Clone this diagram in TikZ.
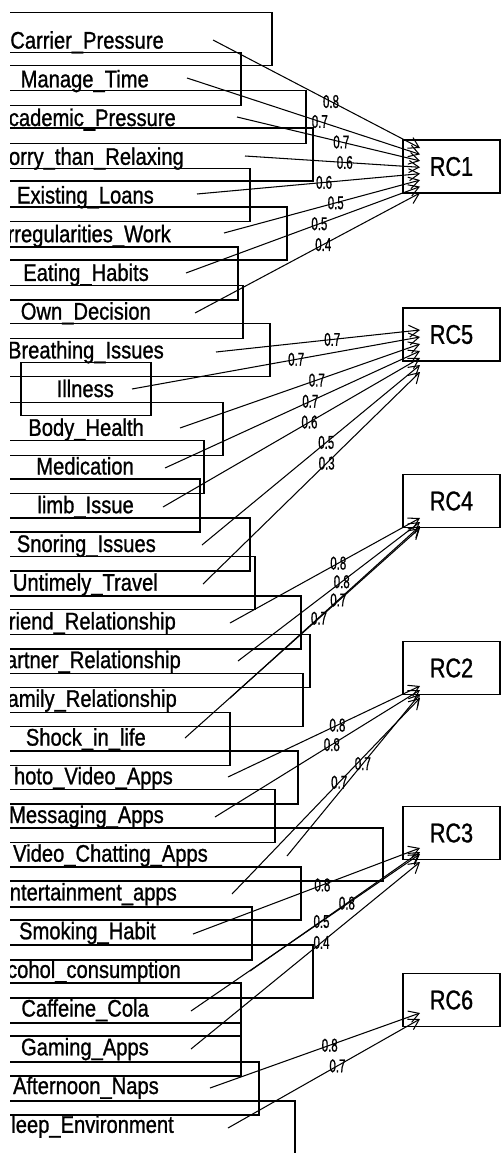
\documentclass[tikz,border=0pt]{standalone}
\usepackage{fontspec}
\setmainfont{Liberation Sans}[FakeStretch=0.84,FakeBold=1]
\newfontfamily\lblfont{Liberation Sans}[FakeStretch=0.62,FakeBold=0.8]
\newfontfamily\rcfont{Liberation Sans}[FakeStretch=0.8,FakeBold=1]
\usetikzlibrary{arrows.meta}
\begin{document}
\begin{tikzpicture}[x=1pt,y=-1pt,
 vbox/.style={draw, line width=1.3pt, minimum height=53pt, inner sep=0pt},
 vtext/.style={anchor=base east, inner sep=0pt, font=\fontsize{24}{28}\selectfont},
 rcbox/.style={draw, line width=1.3pt, minimum width=97pt, minimum height=53pt, inner sep=0pt, font=\rcfont\fontsize{27}{30}\selectfont},
 arr/.style={line width=1.05pt, -{Straight Barb[length=10pt,width=12pt,line width=1.05pt]}},
 ld/.style={pos=0.57, inner sep=0pt, font=\lblfont\fontsize{18.5}{20}\selectfont}
]
\useasboundingbox (0,0) rectangle (501,1153);
\clip (10,0) rectangle (501,1153);

% variable boxes
\node[vbox, minimum width=372pt] (b01) at (86,39) {};
\node[vbox, minimum width=310pt] (b02) at (86,79) {};
\node[vbox, minimum width=440pt] (b03) at (86,117) {};
\node[vbox, minimum width=454pt] (b04) at (86,154.5) {};
\node[vbox, minimum width=328pt] (b05) at (86,195) {};
\node[vbox, minimum width=402pt] (b06) at (86,233.5) {};
\node[vbox, minimum width=304pt] (b07) at (86,273.5) {};
\node[vbox, minimum width=314pt] (b08) at (86,312) {};
\node[vbox, minimum width=368pt] (b09) at (86,350) {};
\node[vbox, minimum width=130pt] (b10) at (86,389) {};
\node[vbox, minimum width=274pt] (b11) at (86,429) {};
\node[vbox, minimum width=236pt] (b12) at (86,467) {};
\node[vbox, minimum width=228pt] (b13) at (86,505.5) {};
\node[vbox, minimum width=328pt] (b14) at (86,544.5) {};
\node[vbox, minimum width=338pt] (b15) at (86,583) {};
\node[vbox, minimum width=430pt] (b16) at (86,622.5) {};
\node[vbox, minimum width=448pt] (b17) at (86,661) {};
\node[vbox, minimum width=434pt] (b18) at (86,700) {};
\node[vbox, minimum width=288pt] (b19) at (86,739) {};
\node[vbox, minimum width=424pt] (b20) at (86,777.5) {};
\node[vbox, minimum width=378pt] (b21) at (86,816) {};
\node[vbox, minimum width=594pt] (b22) at (86,854.5) {};
\node[vbox, minimum width=430pt] (b23) at (86,893.5) {};
\node[vbox, minimum width=332pt] (b24) at (86,933.5) {};
\node[vbox, minimum width=454pt] (b25) at (86,971.5) {};
\node[vbox, minimum width=310pt] (b26) at (86,1009.5) {};
\node[vbox, minimum width=310pt] (b27) at (86,1049.5) {};
\node[vbox, minimum width=346pt] (b28) at (86,1088.5) {};
\node[vbox, minimum width=418pt] (b29) at (86,1127.5) {};

% variable texts
\node[vtext] (t01) at (164,48.6) {Carrier\_Pressure};
\node[vtext] (t02) at (149,87.3) {Manage\_Time};
\node[vtext] (t03) at (176,126) {cademic\_Pressure};
\node[vtext] (t04) at (184,164.8) {orry\_than\_Relaxing};
\node[vtext] (t05) at (154,203.5) {Existing\_Loans};
\node[vtext] (t06) at (171,242.2) {rregularities\_Work};
\node[vtext] (t07) at (149,280.9) {Eating\_Habits};
\node[vtext] (t08) at (151,319.6) {Own\_Decision};
\node[vtext] (t09) at (164,358.4) {Breathing\_Issues};
\node[vtext] (t10) at (114,397.1) {Illness};
\node[vtext] (t11) at (144,435.8) {Body\_Health};
\node[vtext] (t12) at (134,474.5) {Medication};
\node[vtext] (t13) at (134,513.2) {limb\_Issue};
\node[vtext] (t14) at (156,552) {Snoring\_Issues};
\node[vtext] (t15) at (158,590.7) {Untimely\_Travel};
\node[vtext] (t16) at (176,629.4) {riend\_Relationship};
\node[vtext] (t17) at (181,668.1) {artner\_Relationship};
\node[vtext] (t18) at (177,706.8) {amily\_Relationship};
\node[vtext] (t19) at (146,745.6) {Shock\_in\_life};
\node[vtext] (t20) at (173,784.3) {hoto\_Video\_Apps};
\node[vtext] (t21) at (164,823) {Messaging\_Apps};
\node[vtext] (t22) at (208,861.7) {Video\_Chatting\_Apps};
\node[vtext] (t23) at (177,900.4) {ntertainment\_apps};
\node[vtext] (t24) at (156,939.2) {Smoking\_Habit};
\node[vtext] (t25) at (181,977.9) {cohol\_consumption};
\node[vtext] (t26) at (149,1016.6) {Caffeine\_Cola};
\node[vtext] (t27) at (149,1055.3) {Gaming\_Apps};
\node[vtext] (t28) at (159,1094) {Afternoon\_Naps};
\node[vtext] (t29) at (174,1132.8) {leep\_Environment};

% factor boxes
\node[rcbox] (rc1) at (451.5,166.5) {RC1};
\node[rcbox] (rc5) at (451.5,334.5) {RC5};
\node[rcbox] (rc4) at (451.5,501) {RC4};
\node[rcbox] (rc2) at (451.5,668) {RC2};
\node[rcbox] (rc3) at (451.5,833) {RC3};
\node[rcbox] (rc6) at (451.5,1000) {RC6};

% arrow start points
\coordinate (s01) at (213,40);
\coordinate (s02) at (187,78);
\coordinate (s03) at (237,117);
\coordinate (s04) at (245,156);
\coordinate (s05) at (197,194);
\coordinate (s06) at (224,233);
\coordinate (s07) at (186,273);
\coordinate (s08) at (195,313);
\coordinate (s09) at (216,352);
\coordinate (s10) at (132,389);
\coordinate (s11) at (180,428);
\coordinate (s12) at (165,468);
\coordinate (s13) at (163,507);
\coordinate (s14) at (202,545);
\coordinate (s15) at (203,584);
\coordinate (s16) at (230,623);
\coordinate (s17) at (238,661);
\coordinate (s18) at (230,698);
\coordinate (s19) at (185,738);
\coordinate (s20) at (228,777);
\coordinate (s21) at (215,817);
\coordinate (s22) at (287,856);
\coordinate (s23) at (232,894);
\coordinate (s24) at (193,934);
\coordinate (s25) at (250,971);
\coordinate (s26) at (191,1011);
\coordinate (s27) at (191,1049);
\coordinate (s28) at (210,1088);
\coordinate (s29) at (228,1128);

% arrow tips
\coordinate (e01) at (420,148);
\coordinate (e02) at (420,154.4);
\coordinate (e03) at (420,160.9);
\coordinate (e04) at (420,167.3);
\coordinate (e05) at (420,173.7);
\coordinate (e06) at (420,180.1);
\coordinate (e07) at (420,186.6);
\coordinate (e08) at (420,193);
\coordinate (e09) at (420,330);
\coordinate (e10) at (420,337);
\coordinate (e11) at (420,344);
\coordinate (e12) at (420,351);
\coordinate (e13) at (420,358);
\coordinate (e14) at (420,365);
\coordinate (e15) at (420,372);
\coordinate (e16) at (420,518);
\coordinate (e17) at (420,522);
\coordinate (e18) at (420,526);
\coordinate (e19) at (420,528);
\coordinate (e20) at (420,686);
\coordinate (e21) at (420,690);
\coordinate (e22) at (420,694);
\coordinate (e23) at (420,698);
\coordinate (e24) at (420,848);
\coordinate (e25) at (420,852);
\coordinate (e26) at (420,854);
\coordinate (e27) at (420,862);
\coordinate (e28) at (420,1013);
\coordinate (e29) at (420,1019);

% loadings
\draw[arr] (s01) -- (e01) node[ld]{0.8};
\draw[arr] (s02) -- (e02) node[ld]{0.7};
\draw[arr] (s03) -- (e03) node[ld]{0.7};
\draw[arr] (s04) -- (e04) node[ld]{0.6};
\draw[arr] (s05) -- (e05) node[ld]{0.6};
\draw[arr] (s06) -- (e06) node[ld]{0.5};
\draw[arr] (s07) -- (e07) node[ld]{0.5};
\draw[arr] (s08) -- (e08) node[ld]{0.4};
\draw[arr] (s09) -- (e09) node[ld]{0.7};
\draw[arr] (s10) -- (e10) node[ld]{0.7};
\draw[arr] (s11) -- (e11) node[ld]{0.7};
\draw[arr] (s12) -- (e12) node[ld]{0.7};
\draw[arr] (s13) -- (e13) node[ld]{0.6};
\draw[arr] (s14) -- (e14) node[ld]{0.5};
\draw[arr] (s15) -- (e15) node[ld]{0.3};
\draw[arr] (s16) -- (e16) node[ld]{0.8};
\draw[arr] (s17) -- (e17) node[ld]{0.8};
\draw[arr] (s18) -- (e18) node[ld]{0.7};
\draw[arr] (s19) -- (e19) node[ld]{0.7};
\draw[arr] (s20) -- (e20) node[ld]{0.8};
\draw[arr] (s21) -- (e21) node[ld]{0.8};
\draw[arr] (s22) -- (e22) node[ld]{0.7};
\draw[arr] (s23) -- (e23) node[ld]{0.7};
\draw[arr] (s24) -- (e24) node[ld]{0.8};
\draw[arr] (s25) -- (e25) node[ld]{0.8};
\draw[arr] (s26) -- (e26) node[ld]{0.5};
\draw[arr] (s27) -- (e27) node[ld]{0.4};
\draw[arr] (s28) -- (e28) node[ld]{0.8};
\draw[arr] (s29) -- (e29) node[ld]{0.7};
\end{tikzpicture}
\end{document}
